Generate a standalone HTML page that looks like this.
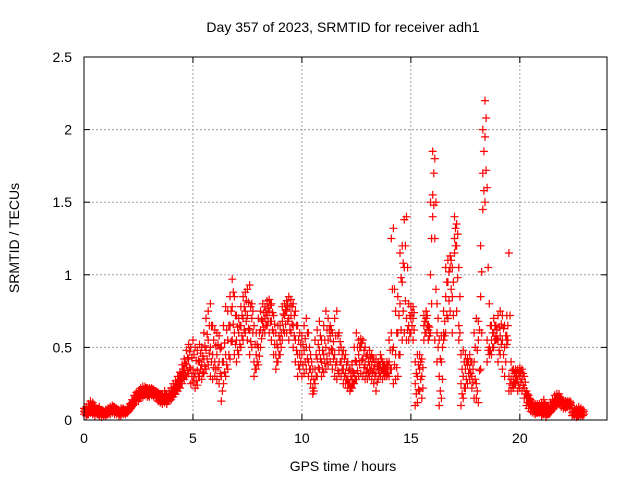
<!DOCTYPE html>
<html><head><meta charset="utf-8"><style>
body{margin:0;background:#fff;}
svg{display:block;font-family:"Liberation Sans",sans-serif;}
</style></head><body>
<svg id="chart" width="640" height="480">
<rect width="640" height="480" fill="#fff"/>
<text x="343" y="32" font-size="14" text-anchor="middle">Day 357 of 2023, SRMTID for receiver adh1</text>
<text x="343" y="471" font-size="14" text-anchor="middle">GPS time / hours</text>
<text x="19" y="238" font-size="14" text-anchor="middle" transform="rotate(-90 19 238)">SRMTID / TECUs</text>
<g id="grid"></g>
<g id="ticks"></g>
<g id="marks"></g>
<rect x="84" y="57" width="523" height="363" fill="none" stroke="#000" stroke-width="1"/>
</svg>
<script>
const xTicks=[0,5,10,15,20];
const yTicks=[0,0.5,1,1.5,2,2.5];
const yTickLabels=["0","0.5","1","1.5","2","2.5"];
const tStart=0, tStep=0.1, tStartB=0.05;
const lo=[.04,.03,.04,.05,.04,.03,.04,.03,.02,.03,
.03,.04,.04,.05,.04,.04,.03,.03,.04,.04,
.05,.07,.09,.11,.13,.13,.15,.16,.17,.16,
.16,.17,.16,.15,.13,.12,.11,.12,.11,.13,
.14,.16,.18,.20,.22,.25,.28,.30,.32,.25,
.26,.22,.24,.30,.28,.32,.35,.38,.30,.28,
.30,.28,.25,.13,.25,.30,.35,.42,.55,.45,
.40,.45,.50,.55,.60,.55,.45,.50,.30,.35,
.38,.50,.60,.60,.65,.60,.55,.45,.35,.40,
.45,.55,.60,.60,.55,.60,.50,.40,.30,.35,
.30,.32,.35,.30,.25,.18,.25,.30,.35,.30,
.33,.35,.38,.40,.35,.30,.28,.32,.30,.25,
.25,.22,.20,.22,.25,.28,.30,.32,.30,.28,
.28,.30,.28,.25,.20,.28,.30,.28,.30,.30,
.30,.35,.25,.28,.30,.45,.55,.60,.55,.55,
.60,.55,.10,.12,.20,.15,.55,.60,.55,.60,
1.40,.55,.40,.10,.15,.55,.60,.70,.75,.60,
1.15,.75,.55,.10,.15,.22,.25,.28,.22,.15,
.15,.12,.35,1.45,1.50,.40,.45,.45,.50,.55,
.40,.45,.35,.30,.52,.20,.20,.22,.25,.20,
.22,.20,.15,.10,.08,.06,.05,.04,.05,.05,
.03,.04,.02,.04,.05,.07,.09,.10,.11,.09,
.08,.08,.09,.08,.03,.03,.02,.03,.03,.03];
const mid=[.06,.05,.07,.08,.07,.06,.05,.06,.05,.04,
.05,.06,.07,.08,.07,.06,.05,.06,.06,.05,
.07,.09,.12,.14,.16,.17,.18,.19,.20,.19,
.19,.20,.19,.17,.16,.15,.14,.15,.14,.16,
.17,.20,.22,.25,.28,.32,.35,.38,.42,.35,
.35,.32,.34,.40,.38,.42,.48,.55,.50,.45,
.40,.45,.40,.30,.40,.45,.55,.65,.78,.60,
.55,.60,.65,.70,.75,.72,.62,.70,.40,.45,
.50,.62,.68,.70,.72,.75,.68,.60,.45,.50,
.55,.68,.72,.75,.70,.72,.65,.55,.45,.45,
.45,.48,.50,.40,.35,.22,.35,.42,.48,.40,
.45,.50,.55,.58,.48,.45,.40,.48,.40,.35,
.32,.28,.25,.28,.32,.40,.45,.50,.42,.38,
.35,.38,.38,.35,.32,.35,.38,.35,.33,.35,
.40,.60,.50,.45,.60,.80,.95,1.05,.70,.65,
.70,.70,.25,.30,.35,.30,.65,.70,.62,1.00,
1.55,1.25,.60,.30,.40,.60,.85,.95,1.05,.85,
1.25,1.20,.65,.25,.30,.35,.38,.35,.30,.40,
.25,.55,.85,1.70,1.95,.55,.50,.55,.60,.58,
.55,.58,.55,.50,.58,.30,.28,.28,.30,.28,
.30,.28,.22,.15,.12,.10,.08,.07,.08,.08,
.07,.08,.06,.07,.08,.10,.13,.14,.15,.12,
.10,.10,.11,.11,.05,.05,.05,.06,.05,.05];
const hi=[.08,.09,.11,.13,.12,.10,.08,.09,.07,.06,
.07,.08,.09,.10,.09,.08,.07,.08,.08,.07,
.09,.11,.14,.17,.19,.20,.22,.23,.23,.22,
.22,.22,.21,.20,.19,.18,.18,.20,.18,.20,
.22,.25,.27,.30,.33,.38,.42,.48,.52,.50,
.55,.50,.48,.52,.50,.60,.70,.75,.80,.65,
.62,.60,.58,.50,.65,.78,.75,.85,.97,.85,
.72,.70,.78,.85,.88,.90,.93,.80,.65,.60,
.70,.75,.80,.78,.82,.83,.80,.72,.60,.65,
.65,.78,.80,.82,.85,.83,.80,.75,.65,.60,
.58,.65,.70,.60,.45,.35,.55,.62,.68,.55,
.65,.75,.70,.65,.60,.70,.75,.60,.50,.48,
.45,.40,.35,.38,.50,.60,.55,.56,.55,.50,
.45,.48,.45,.42,.42,.40,.45,.40,.38,.40,
.55,1.25,1.32,.75,.85,1.15,1.20,1.38,1.40,.80,
.78,.78,.40,.45,.45,.42,.72,.75,.65,1.50,
1.85,1.80,.80,.55,.58,.75,1.05,1.10,1.13,1.05,
1.40,1.35,1.05,.45,.48,.45,.42,.45,.40,.60,
.70,.68,1.20,2.00,2.20,1.60,.80,.65,.70,.65,
.72,.75,.72,.65,.72,1.15,.40,.35,.35,.35,
.36,.35,.30,.20,.17,.14,.12,.11,.11,.11,
.12,.14,.10,.10,.12,.14,.17,.18,.18,.15,
.12,.13,.13,.13,.08,.08,.08,.09,.08,.07];
const q1=[.05,.04,.06,.06,.05,.05,.04,.05,.04,.04,
.04,.05,.06,.06,.06,.05,.04,.05,.05,.05,
.06,.08,.10,.13,.15,.15,.17,.18,.18,.17,
.18,.18,.18,.16,.15,.13,.13,.13,.13,.15,
.16,.18,.20,.23,.25,.29,.31,.34,.36,.30,
.30,.27,.30,.35,.33,.37,.42,.46,.40,.36,
.35,.36,.32,.20,.33,.38,.45,.54,.66,.52,
.48,.52,.58,.62,.68,.63,.54,.60,.35,.40,
.44,.56,.64,.65,.68,.68,.62,.52,.40,.45,
.50,.62,.66,.68,.62,.66,.58,.48,.38,.40,
.38,.40,.42,.35,.30,.20,.30,.36,.42,.35,
.39,.42,.46,.49,.42,.38,.34,.40,.35,.30,
.28,.25,.22,.25,.28,.34,.38,.41,.36,.33,
.32,.34,.33,.30,.26,.32,.34,.32,.32,.32,
.35,.48,.38,.36,.45,.62,.75,.82,.62,.60,
.65,.62,.18,.21,.28,.22,.60,.65,.58,.80,
1.48,.90,.50,.20,.28,.58,.72,.82,.90,.72,
1.20,.98,.60,.18,.22,.28,.32,.32,.26,.28,
.20,.34,.60,1.58,1.72,.48,.48,.50,.55,.56,
.48,.52,.45,.40,.55,.25,.24,.25,.28,.24,
.26,.24,.18,.12,.10,.08,.06,.05,.06,.06,
.05,.06,.04,.05,.06,.08,.11,.12,.13,.10,
.09,.09,.10,.10,.04,.04,.03,.04,.04,.04];
const q3=[.07,.07,.09,.10,.10,.08,.07,.07,.06,.05,
.06,.07,.08,.09,.08,.07,.06,.07,.07,.06,
.08,.10,.13,.16,.18,.19,.20,.21,.22,.21,
.21,.21,.20,.19,.18,.17,.16,.18,.16,.18,
.20,.23,.25,.28,.31,.35,.39,.43,.47,.43,
.45,.41,.41,.46,.44,.51,.59,.65,.65,.55,
.51,.52,.49,.40,.53,.62,.65,.75,.88,.72,
.64,.65,.72,.78,.82,.81,.78,.75,.52,.52,
.60,.69,.74,.74,.77,.79,.74,.66,.52,.58,
.60,.73,.76,.79,.78,.78,.72,.65,.55,.52,
.52,.56,.60,.50,.40,.28,.45,.52,.58,.48,
.55,.62,.62,.62,.54,.58,.58,.54,.45,.42,
.38,.34,.30,.33,.41,.50,.50,.53,.48,.44,
.40,.43,.42,.38,.37,.38,.42,.38,.36,.38,
.48,.90,.90,.60,.72,.98,1.08,1.20,1.05,.72,
.74,.74,.32,.38,.40,.36,.68,.72,.64,1.25,
1.70,1.50,.70,.42,.50,.68,.95,1.02,1.10,.95,
1.32,1.28,.85,.35,.40,.40,.40,.40,.35,.50,
.48,.62,1.02,1.85,2.08,1.05,.65,.60,.65,.62,
.64,.66,.63,.58,.65,.72,.34,.32,.32,.32,
.33,.32,.26,.18,.15,.12,.10,.09,.09,.09,
.10,.11,.08,.08,.10,.12,.15,.16,.16,.14,
.11,.12,.12,.12,.06,.06,.06,.07,.06,.06];

const X0=84,X1=607,Y0=420,Y1=57,XMAX=24,YMAX=2.5;
function xs(v){return X0+(v/XMAX)*(X1-X0);}
function ys(v){return Y0-(v/YMAX)*(Y0-Y1);}
const NS="http://www.w3.org/2000/svg";
const grid=document.getElementById('grid'),ticks=document.getElementById('ticks'),marks=document.getElementById('marks');
function mk(tag,attrs,parent){const e=document.createElementNS(NS,tag);for(const k in attrs)e.setAttribute(k,attrs[k]);parent.appendChild(e);return e;}
xTicks.forEach(v=>{
  const x=xs(v);
  if(v>0){const g=mk('line',{x1:x,x2:x,y1:Y1,y2:Y0,stroke:'#a0a0a0','stroke-dasharray':'2,2'},grid);
  
  }
  mk('line',{x1:x,x2:x,y1:Y0,y2:Y0-6,stroke:'#000'},ticks);
  mk('line',{x1:x,x2:x,y1:Y1,y2:Y1+6,stroke:'#000'},ticks);
  const t=mk('text',{x:x,y:443,'font-size':14,'text-anchor':'middle'},ticks);t.textContent=v;
  
  
});
yTicks.forEach((v,i)=>{
  const y=ys(v);
  if(v>0&&v<YMAX){const g=mk('line',{x1:X0,x2:X1,y1:y,y2:y,stroke:'#a0a0a0','stroke-dasharray':'2,2'},grid);
  
  }
  mk('line',{x1:X0,x2:X0+6,y1:y,y2:y,stroke:'#000'},ticks);
  mk('line',{x1:X1,x2:X1-6,y1:y,y2:y,stroke:'#000'},ticks);
  const t=mk('text',{x:72,y:y+5,'font-size':14,'text-anchor':'end'},ticks);t.textContent=yTickLabels[i];
  
  
});
let d='';
function addSeries(arr,t0){arr.forEach((v,i)=>{
  const x=xs(t0+i*tStep),y=ys(v);
  d+=`M${(x-4).toFixed(1)} ${y.toFixed(1)}h8M${x.toFixed(1)} ${(y-4).toFixed(1)}v8`;
});}
addSeries(lo,tStart);addSeries(mid,tStart);addSeries(hi,tStart);
addSeries(q1,tStartB);addSeries(q3,tStartB);
const p=mk('path',{d:d,stroke:'#ff0000','stroke-width':1.2,fill:'none'},marks);


</script>
</body></html>
